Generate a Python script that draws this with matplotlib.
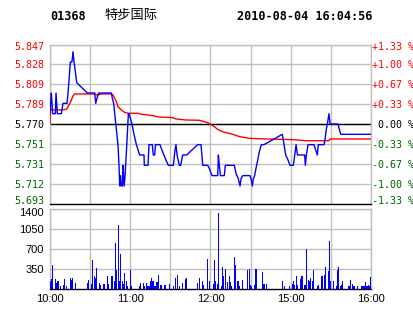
import matplotlib
matplotlib.use("Agg")
import matplotlib.pyplot as plt
from matplotlib.transforms import blended_transform_factory, ScaledTranslation

# ---------------- data ----------------
code = "01368"
name = "特步国际"
stamp = "2010-08-04 16:04:56"
pre_close = 5.770

price_ticks = [5.693, 5.712, 5.731, 5.751, 5.770, 5.789, 5.809, 5.828, 5.847]
price_labels = ["5.693", "5.712", "5.731", "5.751", "5.770", "5.789", "5.809", "5.828", "5.847"]
pct_labels = ["-1.33 %", "-1.00 %", "-0.67 %", "-0.33 %", " 0.00 %", "+0.33 %", "+0.67 %", "+1.00 %", "+1.33 %"]

vol_ticks = [350, 700, 1050, 1400]
vol_labels = ["350", "700", "1050", "1400"]

time_ticks = [0, 30, 60, 90, 120, 150, 180, 210, 240]
time_labels = ["10:00", "", "11:00", "", "12:00", "", "15:00", "", "16:00"]

# price line: (minute index, price)
price_points = [
    (0, 5.78), (0.5, 5.79), (1, 5.80), (2, 5.78), (4, 5.78), (4.5, 5.80), (5.5, 5.78), (8.5, 5.78),
    (9.7, 5.79), (12.7, 5.79), (13.5, 5.80), (15.2, 5.83), (16.4, 5.83), (17.2, 5.84), (18, 5.83),
    (19, 5.82), (20, 5.81), (28, 5.80), (33.4, 5.80), (34.2, 5.79), (35.1, 5.795), (36.4, 5.80),
    (45.9, 5.80), (46.6, 5.795), (47.6, 5.79), (48.4, 5.78), (49.6, 5.765), (50.8, 5.75), (51.6, 5.73),
    (52.1, 5.71), (52.8, 5.72), (53.3, 5.71), (54.2, 5.71), (54.6, 5.73), (55.0, 5.72), (55.5, 5.71),
    (56.1, 5.72), (57.0, 5.74), (57.8, 5.76), (58.6, 5.78), (59.1, 5.78), (61.3, 5.77), (62.8, 5.76),
    (64.6, 5.75), (65.8, 5.745), (67, 5.74), (70.3, 5.74), (70.5, 5.73), (73.3, 5.73), (74, 5.75),
    (76.5, 5.75), (77.2, 5.74), (78.3, 5.74), (78.8, 5.75), (82.2, 5.75), (84.2, 5.743), (86.7, 5.735),
    (88.5, 5.73), (92.2, 5.73), (93.5, 5.745), (94.2, 5.75), (95, 5.74), (95.8, 5.735), (96.7, 5.73),
    (97.7, 5.73), (99.2, 5.74), (102.2, 5.74), (110.4, 5.75), (112.9, 5.75), (114.2, 5.73), (117.9, 5.73),
    (119.1, 5.727), (121.1, 5.72), (125.4, 5.72), (125.9, 5.74), (126.6, 5.73), (127.4, 5.72),
    (130.3, 5.72), (131.1, 5.73), (137.8, 5.73), (139.1, 5.722), (140.8, 5.717), (142.1, 5.71),
    (142.8, 5.717), (144.1, 5.72), (149.5, 5.72), (150.3, 5.717), (151.3, 5.71), (152, 5.717),
    (153, 5.72), (154, 5.727), (155.3, 5.735), (156.5, 5.743), (158, 5.75), (160, 5.75), (173.7, 5.76),
    (175, 5.75), (176.2, 5.74), (178, 5.735), (179.4, 5.73), (181.9, 5.73), (183, 5.74), (184, 5.75),
    (185, 5.74), (190.4, 5.74), (190.9, 5.73), (191.7, 5.74), (192.9, 5.75), (197.4, 5.75),
    (198.6, 5.745), (199.9, 5.74), (200.6, 5.75), (204.9, 5.75), (205.6, 5.755), (206.6, 5.765),
    (207.4, 5.77), (208.6, 5.78), (209.4, 5.77), (215.3, 5.77), (216.3, 5.765), (217.4, 5.76), (240, 5.76),
]

# average price line: (minute index, price)
avg_points = [
    (0, 5.770), (0.3, 5.7852), (1, 5.7836), (8.5, 5.7836), (12.2, 5.7842), (13.5, 5.7868),
    (15.5, 5.7917), (17.2, 5.7972), (18.4, 5.7991), (33.4, 5.7991), (34.6, 5.7982), (37.1, 5.7985),
    (38.4, 5.7991), (45.9, 5.7991), (47.1, 5.7982), (48.4, 5.7949), (49.6, 5.7917), (50.8, 5.7868),
    (53.3, 5.7836), (55.8, 5.7813), (58.3, 5.7804), (65.8, 5.7804), (68.3, 5.7794), (73.3, 5.7787),
    (78.3, 5.7778), (80.7, 5.7768), (91.7, 5.7762), (94.2, 5.7749), (101.7, 5.7739), (111.7, 5.7736),
    (115.4, 5.7723), (119.1, 5.7706), (122.9, 5.7674), (125.4, 5.7648), (129.1, 5.7625),
    (136.6, 5.7600), (141.6, 5.7578), (149.1, 5.7561), (161.5, 5.7555), (182.4, 5.7548),
    (191.2, 5.7538), (208.6, 5.7538), (209.4, 5.7555), (240, 5.7555),
]

# volume bars: (minute index, volume)
vol_points = [
    (0, 130), (1, 165), (2, 413), (4, 165), (5, 89), (6, 130), (8, 41), (10, 59), (11, 165), (12, 41),
    (15, 189), (16, 148), (17, 189), (19, 95), (28, 95), (29, 148), (31, 77), (32, 502), (33, 219),
    (34, 183), (35, 360), (37, 95), (38, 59), (40, 77), (41, 77), (43, 219), (44, 77), (46, 219),
    (47, 219), (48, 130), (49, 803), (50, 325), (51, 1122), (52, 130), (53, 608), (54, 130), (55, 77),
    (56, 272), (57, 130), (58, 41), (60, 325), (61, 41), (67, 41), (68, 95), (70, 95), (71, 41),
    (72, 95), (73, 41), (74, 41), (75, 130), (76, 183), (77, 130), (78, 41), (79, 41), (80, 112),
    (81, 236), (83, 59), (86, 59), (89, 77), (92, 41), (94, 183), (95, 236), (97, 41), (99, 95),
    (101, 165), (102, 183), (110, 95), (112, 183), (114, 130), (115, 59), (118, 520), (119, 130),
    (122, 77), (123, 502), (124, 130), (125, 77), (126, 1335), (128, 41), (129, 378), (130, 219),
    (131, 343), (133, 112), (134, 219), (135, 112), (136, 41), (138, 555), (139, 413), (140, 130),
    (141, 130), (142, 41), (144, 148), (148, 325), (149, 343), (150, 59), (151, 41), (153, 59),
    (154, 343), (159, 289), (160, 77), (162, 77), (174, 130), (175, 41), (179, 41), (181, 77),
    (182, 130), (183, 59), (184, 219), (185, 59), (187, 165), (188, 219), (189, 219), (190, 59),
    (191, 59), (192, 697), (193, 148), (194, 130), (195, 183), (196, 130), (197, 325), (200, 41),
    (201, 59), (203, 219), (204, 219), (205, 236), (206, 378), (208, 307), (209, 839), (210, 130),
    (212, 130), (214, 41), (215, 325), (216, 378), (217, 41), (218, 59), (219, 130), (223, 41),
    (224, 41), (225, 148), (226, 77), (227, 41), (228, 41), (230, 41), (233, 41), (234, 41),
    (235, 41), (236, 112), (237, 41), (238, 59), (239, 41), (240, 201),
]

price_min = [p[0] for p in price_points]
price_val = [p[1] for p in price_points]
avg_min = [p[0] for p in avg_points]
avg_val = [p[1] for p in avg_points]
vol_min = [p[0] for p in vol_points]
vol_val = [p[1] for p in vol_points]

# ---------------- drawing ----------------
W, H = 414, 314
fig = plt.figure(figsize=(W / 100, H / 100), dpi=100)


def fx(px):
    return px / W


def fy(py):
    return 1 - py / H


GRID = "#c0c0c0"
RED = "#ff0000"
GREEN = "#006400"
MONO = "DejaVu Sans Mono"
SANS = "Liberation Sans"


def lab_color(i):
    if i > 4:
        return RED
    if i < 4:
        return GREEN
    return "black"


def ylabel(axis, side, value, text, down_px, **kw):
    trans = blended_transform_factory(axis.transAxes, axis.transData)
    dx = -6 if side == "left" else 1.5
    off = ScaledTranslation(dx / 100, -down_px / 100, fig.dpi_scale_trans)
    axis.text(0 if side == "left" else 1, value, text, transform=trans + off,
              ha="right" if side == "left" else "left", va="center", clip_on=False, **kw)


# price panel
ax = fig.add_axes([fx(50), fy(203.5), fx(371) - fx(50), fy(44.5) - fy(203.5)])
ax.set_xlim(0, 240)
ax.set_ylim(price_ticks[0], price_ticks[-1])
ax.set_xticks(time_ticks)
ax.set_yticks(price_ticks)
ax.tick_params(axis="both", length=0, labelbottom=False, labelleft=False)
ax.set_axisbelow(True)
ax.grid(True, color=GRID, lw=1)
for s in ["top", "left", "right"]:
    ax.spines[s].set_color(GRID)
    ax.spines[s].set_linewidth(1)
ax.spines["bottom"].set_color("black")
ax.spines["bottom"].set_linewidth(1)
ax.axhline(pre_close, color="black", lw=1, zorder=2)
ax.plot(avg_min, avg_val, color=RED, lw=1, zorder=3)
ax.plot(price_min, price_val, color="#0000ff", lw=1, zorder=4)

n = len(price_ticks)
for i in range(n):
    shift = 2 if i == n - 1 else (-3 if i == 0 else 1)
    ylabel(ax, "left", price_ticks[i], price_labels[i], shift,
           family=MONO, fontsize=7.2, color=lab_color(i))
    ylabel(ax, "right", price_ticks[i], pct_labels[i], shift,
           family=MONO, fontsize=7.2, color=lab_color(i))

# volume panel
av = fig.add_axes([fx(50), fy(288.5), fx(371) - fx(50), fy(209) - fy(288.5)])
av.set_xlim(0, 240)
av.set_ylim(0, 1400)
av.set_xticks(time_ticks)
av.set_xticklabels(time_labels, family=SANS, fontsize=8)
av.set_yticks(vol_ticks)
av.tick_params(axis="both", length=0, labelleft=False)
av.tick_params(axis="x", pad=4.3)
av.set_axisbelow(True)
av.grid(True, color=GRID, lw=1)
for s in ["top", "left", "right"]:
    av.spines[s].set_color(GRID)
    av.spines[s].set_linewidth(1)
av.spines["bottom"].set_color("black")
av.spines["bottom"].set_linewidth(1)
av.bar(vol_min, vol_val, width=0.8, color="#0000ff", lw=0, zorder=3)

for i, (v, l) in enumerate(zip(vol_ticks, vol_labels)):
    shift = 4 if i == len(vol_ticks) - 1 else 1.5
    ylabel(av, "left", v, l, shift, family=SANS, fontsize=8, color="black")

# header
fig.text(fx(50), fy(17), code, family=MONO, weight="bold", fontsize=8.5, va="center", ha="left")
fig.text(fx(104), fy(15.5), name, family=["Noto Sans CJK SC", "DejaVu Sans"], fontsize=9.5,
         va="center", ha="left")
fig.text(fx(237), fy(17), stamp, family=MONO, weight="bold", fontsize=8.5, va="center", ha="left")

fig.savefig("out.png", dpi=100)
